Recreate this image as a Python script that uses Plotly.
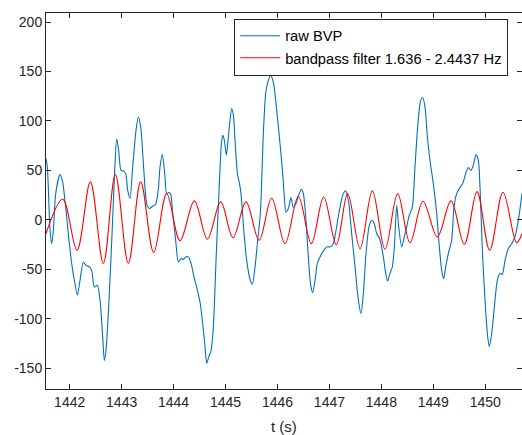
import plotly.graph_objects as go

# raw BVP signal (time in s, amplitude)
raw_t = [1441.544, 1441.570, 1441.621, 1441.654, 1441.686, 1441.731, 1441.814, 1441.865, 1441.923, 1441.974,
         1442.038, 1442.096, 1442.148, 1442.199, 1442.263, 1442.314, 1442.379, 1442.423, 1442.475, 1442.533,
         1442.584, 1442.635, 1442.667, 1442.699, 1442.757, 1442.821, 1442.866, 1442.905, 1442.943, 1442.988,
         1443.033, 1443.078, 1443.116, 1443.161, 1443.213, 1443.277, 1443.322, 1443.367, 1443.431, 1443.482,
         1443.534, 1443.598, 1443.655, 1443.707, 1443.739, 1443.784, 1443.829, 1443.867, 1443.906, 1443.944,
         1443.983, 1444.040, 1444.092, 1444.143, 1444.188, 1444.233, 1444.284, 1444.336, 1444.393, 1444.458,
         1444.509, 1444.560, 1444.605, 1444.637, 1444.669, 1444.721, 1444.766, 1444.817, 1444.875, 1444.920,
         1444.945, 1444.977, 1445.016, 1445.048, 1445.086, 1445.118, 1445.151, 1445.183, 1445.228, 1445.266,
         1445.298, 1445.356, 1445.407, 1445.471, 1445.516, 1445.568, 1445.619, 1445.670, 1445.728, 1445.773,
         1445.824, 1445.869, 1445.920, 1445.985, 1446.049, 1446.100, 1446.132, 1446.164, 1446.209, 1446.261,
         1446.305, 1446.357, 1446.408, 1446.459, 1446.498, 1446.549, 1446.594, 1446.639, 1446.678, 1446.723,
         1446.767, 1446.819, 1446.883, 1446.947, 1447.011, 1447.075, 1447.127, 1447.204, 1447.268, 1447.313,
         1447.364, 1447.428, 1447.493, 1447.557, 1447.608, 1447.653, 1447.704, 1447.762, 1447.813, 1447.858,
         1447.910, 1447.974, 1448.038, 1448.083, 1448.121, 1448.166, 1448.211, 1448.250, 1448.295, 1448.333,
         1448.391, 1448.442, 1448.487, 1448.532, 1448.596, 1448.647, 1448.699, 1448.757, 1448.795, 1448.840,
         1448.885, 1448.936, 1449.000, 1449.065, 1449.116, 1449.161, 1449.199, 1449.238, 1449.289, 1449.353,
         1449.398, 1449.450, 1449.501, 1449.565, 1449.623, 1449.674, 1449.725, 1449.770, 1449.822, 1449.867,
         1449.899, 1449.944, 1449.995, 1450.046, 1450.078, 1450.123, 1450.175, 1450.232, 1450.284, 1450.329,
         1450.380, 1450.444, 1450.508, 1450.572, 1450.637, 1450.707]
raw_v = [62, 53.6, -10, -24, -10, 26.6, 45.8, 38, 13, -14,
         -44, -63, -76, -61, -42.5, -46, -47.5, -51, -68, -66,
         -81, -118, -142, -132, -81, -7, 50, 82, 70, 50,
         49.5, 47, 30, 21.6, 53.6, 90.7, 104, 94, 47, 16.5,
         11.5, 13.8, 15.8, 31.7, 53.6, 66.4, 47, 26.6, 27.6, 26,
         6.4, -20.6, -42.5, -39, -40, -37.4, -37.4, -44, -57.6, -71,
         -83, -105, -128, -145, -140, -132, -108, -41, 30, 77,
         85.6, 80.5, 65.4, 80.5, 100.8, 112.6, 105.8, 80.5, 47, 37.4,
         26.6, -13.8, -40.8, -60, -65, -47.5, -20.6, 6.4, 87, 127.7,
         141, 146, 139.5, 111, 77, 47, 23, 7.8, 11.5, 22.6,
         12.5, 16.5, 25, 31, 26.6, -0.3, -37.4, -66, -73.5, -61,
         -44, -37.4, -31.3, -27.3, -27.3, -24, -10.4, 13, 26.6, 29.3,
         19.9, -13.8, -47.5, -81, -94.7, -74.5, -34, -7, -0.3, -3,
         -13.8, -20, -37.4, -54, -61.7, -54, -47.5, -27.3, 14.8, -7,
         -27.3, -17, -7, 3.7, 13, 53.6, 94, 121, 123.7, 114,
         84, 60, 36.7, 6.4, -27.3, -51, -59.3, -47.5, -34, -20.6,
         13, 26.6, 31.7, 36.7, 47, 53, 50, 55.3, 66, 60,
         33, -30.7, -81, -118, -128, -115, -88, -61, -54, -55,
         -40.8, -29, -24, -17, -0.3, 26.6]

# bandpass-filtered signal extrema (time in s, amplitude)
bp_t = [1441.544, 1441.865, 1442.141, 1442.398, 1442.648, 1442.879, 1443.129, 1443.367, 1443.617, 1443.867,
        1444.124, 1444.400, 1444.650, 1444.907, 1445.144, 1445.394, 1445.645, 1445.888, 1446.145, 1446.402,
        1446.652, 1446.889, 1447.133, 1447.351, 1447.589, 1447.826, 1448.070, 1448.314, 1448.551, 1448.801,
        1449.077, 1449.340, 1449.597, 1449.841, 1450.085, 1450.341, 1450.604, 1450.707]
bp_v = [-13.8, 20.9, -30.7, 38.4, -44, 45.8, -44, 38.4, -33, 26.6,
        -21, 19.2, -19.5, 18.2, -17.9, 18.2, -20.6, 21.9, -24, 23.9,
        -24, 23.2, -25, 26.6, -29, 29.3, -29.7, 26.6, -23, 18.9,
        -17.2, 19.2, -24.6, 28.6, -30.7, 28, -23, -14]

x_ticks = [1442, 1443, 1444, 1445, 1446, 1447, 1448, 1449, 1450]
y_ticks = [-150, -100, -50, 0, 50, 100, 150, 200]
x_title = "t (s)"

AX = "#262626"
FONT = "Liberation Sans, Arial, Helvetica, sans-serif"

fig = go.Figure()
fig.add_trace(go.Scatter(x=raw_t, y=raw_v, mode="lines", name="raw BVP",
                         line=dict(color="#0072BD", width=1.1, shape="spline", smoothing=0.7)))
fig.add_trace(go.Scatter(x=bp_t, y=bp_v, mode="lines", name="bandpass filter 1.636 - 2.4437 Hz",
                         line=dict(color="#FF0000", width=1.1, shape="spline", smoothing=1.0)))

axis_common = dict(showgrid=False, zeroline=False, showline=True, linecolor=AX, linewidth=1,
                   mirror="ticks", ticks="inside", ticklen=5, tickcolor=AX, tickwidth=1,
                   automargin=False,
                   tickfont=dict(family=FONT, size=14, color=AX))

fig.update_layout(
    width=522, height=435,
    margin=dict(l=46, r=0, t=13, b=46),
    paper_bgcolor="white", plot_bgcolor="white",
    font=dict(family=FONT, color=AX),
    xaxis=dict(range=[1441.544, 1450.707], tickvals=x_ticks, ticktext=[str(v) for v in x_ticks],
               **axis_common),
    yaxis=dict(range=[-170.9, 209.1], tickvals=y_ticks, ticktext=[str(v) for v in y_ticks],
               **axis_common),
    legend=dict(x=0.971, y=0.985, xanchor="right", yanchor="top",
                bgcolor="white", bordercolor=AX, borderwidth=1,
                font=dict(family=FONT, size=14.7, color="#000000"),
                tracegroupgap=0, itemwidth=40),
    showlegend=True,
    annotations=[dict(text=x_title, xref="paper", yref="paper", x=0.5, y=-0.101,
                      xanchor="center", yanchor="middle", showarrow=False,
                      font=dict(family=FONT, size=15, color=AX))],
)

fig.write_html("out.html", config={"displayModeBar": False},
               post_script="document.body.style.margin='0';document.body.style.overflow='hidden';")
